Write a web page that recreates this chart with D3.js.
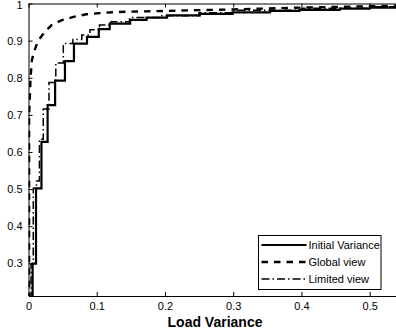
<!DOCTYPE html>
<html>
<head>
<meta charset="utf-8">
<script src="https://cdn.jsdelivr.net/npm/d3@7"></script>
<style>
  body { margin: 0; background: #fff; }
  svg { display: block; font-family: "Liberation Sans", Arial, sans-serif; }
</style>
</head>
<body>
<svg width="396" height="332"></svg>
<script>
// stair points: x where the step happens, y the level reached
const initialX = [0, 0.006, 0.011, 0.019, 0.028, 0.039, 0.0534, 0.0666, 0.0857, 0.103, 0.119, 0.149, 0.173, 0.203, 0.251, 0.299, 0.354, 0.397, 0.456, 0.5, 0.6]
const initialY = [0, 0.299, 0.502, 0.627, 0.726, 0.792, 0.845, 0.892, 0.91, 0.931, 0.946, 0.956, 0.962, 0.968, 0.972, 0.976, 0.98, 0.983, 0.986, 0.989, 0.989]

const globalX = [0.0009, 0.0009, 0.002, 0.003, 0.005, 0.008, 0.014, 0.024, 0.034, 0.049, 0.066, 0.085, 0.109, 0.129, 0.149, 0.2, 0.3, 0.4, 0.6]
const globalY = [0, 0.7, 0.75, 0.8, 0.847, 0.87, 0.899, 0.924, 0.942, 0.955, 0.964, 0.971, 0.975, 0.977, 0.978, 0.98, 0.984, 0.989, 0.996]

const limitedX = [0, 0.0037, 0.007, 0.0117, 0.016, 0.0216, 0.03, 0.04, 0.051, 0.065, 0.078, 0.09, 0.104, 0.121, 0.148, 0.192, 0.25, 0.3, 0.4, 0.5, 0.6]
const limitedY = [0, 0.299, 0.502, 0.522, 0.634, 0.716, 0.787, 0.84, 0.892, 0.903, 0.915, 0.929, 0.942, 0.951, 0.962, 0.967, 0.975, 0.982, 0.987, 0.991, 0.991]

const seriesNames = ["Initial Variance", "Global view", "Limited view"]
const xTicks = [0, 0.1, 0.2, 0.3, 0.4, 0.5]
const yTicks = [0.3, 0.4, 0.5, 0.6, 0.7, 0.8, 0.9, 1]

const svg = d3.select('svg')
const plotL = 28.5, plotT = 3.5, plotR = 397, plotB = 296

const x = d3.scaleLinear().domain([0, 0.54]).range([plotL, plotR])
const y = d3.scaleLinear().domain([0.212, 1]).range([plotB, plotT])

svg.append('clipPath').attr('id', 'plotclip')
  .append('rect')
  .attr('x', plotL).attr('y', plotT)
  .attr('width', plotR - plotL).attr('height', plotB - plotT)

const styles = [
  {dash: null, width: 2.2, curve: d3.curveStepAfter},
  {dash: '6.5,6', width: 2.4, curve: d3.curveLinear},
  {dash: '8,3,1.5,3', width: 1.5, curve: d3.curveStepAfter}
]

const series = [
  d3.zip(initialX, initialY),
  d3.zip(globalX, globalY),
  d3.zip(limitedX, limitedY)
]

const plot = svg.append('g').attr('clip-path', 'url(#plotclip)')

// draw limited first, then global, then initial on top
;[2, 1, 0].forEach(i => {
  const line = d3.line().x(d => x(d[0])).y(d => y(d[1])).curve(styles[i].curve)
  plot.append('path')
    .attr('d', line(series[i]))
    .attr('fill', 'none')
    .attr('stroke', 'black')
    .attr('stroke-width', styles[i].width)
    .attr('stroke-dasharray', styles[i].dash)
    .attr('stroke-linejoin', 'miter')
})

// axes
const fmtY = d => d === 1 ? '1' : d3.format('.1f')(d)
const fmtX = d => d === 0 ? '0' : d3.format('.1f')(d)

const gx = svg.append('g').attr('transform', `translate(0,${plotB})`)
  .call(d3.axisBottom(x).tickValues(xTicks).tickFormat(fmtX).tickSizeInner(-4).tickSizeOuter(0).tickPadding(6))
const gy = svg.append('g').attr('transform', `translate(${plotL},0)`)
  .call(d3.axisLeft(y).tickValues(yTicks).tickFormat(fmtY).tickSizeInner(-4).tickSizeOuter(0).tickPadding(6))
const gt = svg.append('g').attr('transform', `translate(0,${plotT})`)
  .call(d3.axisTop(x).tickValues(xTicks).tickFormat('').tickSizeInner(-4).tickSizeOuter(0))

;[gx, gy, gt].forEach(g => {
  g.selectAll('path.domain').attr('stroke', 'black').attr('stroke-width', 1)
  g.selectAll('line').attr('stroke', 'black')
  g.selectAll('text').attr('fill', 'black').style('font-size', '11px').style('font-family', '"Liberation Sans", Arial, sans-serif')
})
// top label sits at the very edge, nudge it in a bit
gy.selectAll('text').filter(d => d === 1).attr('y', 1.5)

svg.append('text')
  .attr('x', 215).attr('y', 326.5)
  .attr('text-anchor', 'middle')
  .style('font-size', '14px').style('font-weight', 'bold')
  .text('Load Variance')

// legend
const lg = svg.append('g').attr('transform', 'translate(258.5,235.5)')
lg.append('rect').attr('width', 122.5).attr('height', 54)
  .attr('fill', 'white').attr('stroke', 'black').attr('stroke-width', 1)

seriesNames.forEach((name, i) => {
  const yy = 9.5 + i * 17
  lg.append('line')
    .attr('x1', 3).attr('x2', 48).attr('y1', yy).attr('y2', yy)
    .attr('stroke', 'black')
    .attr('stroke-width', styles[i].width)
    .attr('stroke-dasharray', styles[i].dash)
  lg.append('text')
    .attr('x', 50).attr('y', yy + 4)
    .style('font-size', '11px')
    .text(name)
})
</script>
</body>
</html>
